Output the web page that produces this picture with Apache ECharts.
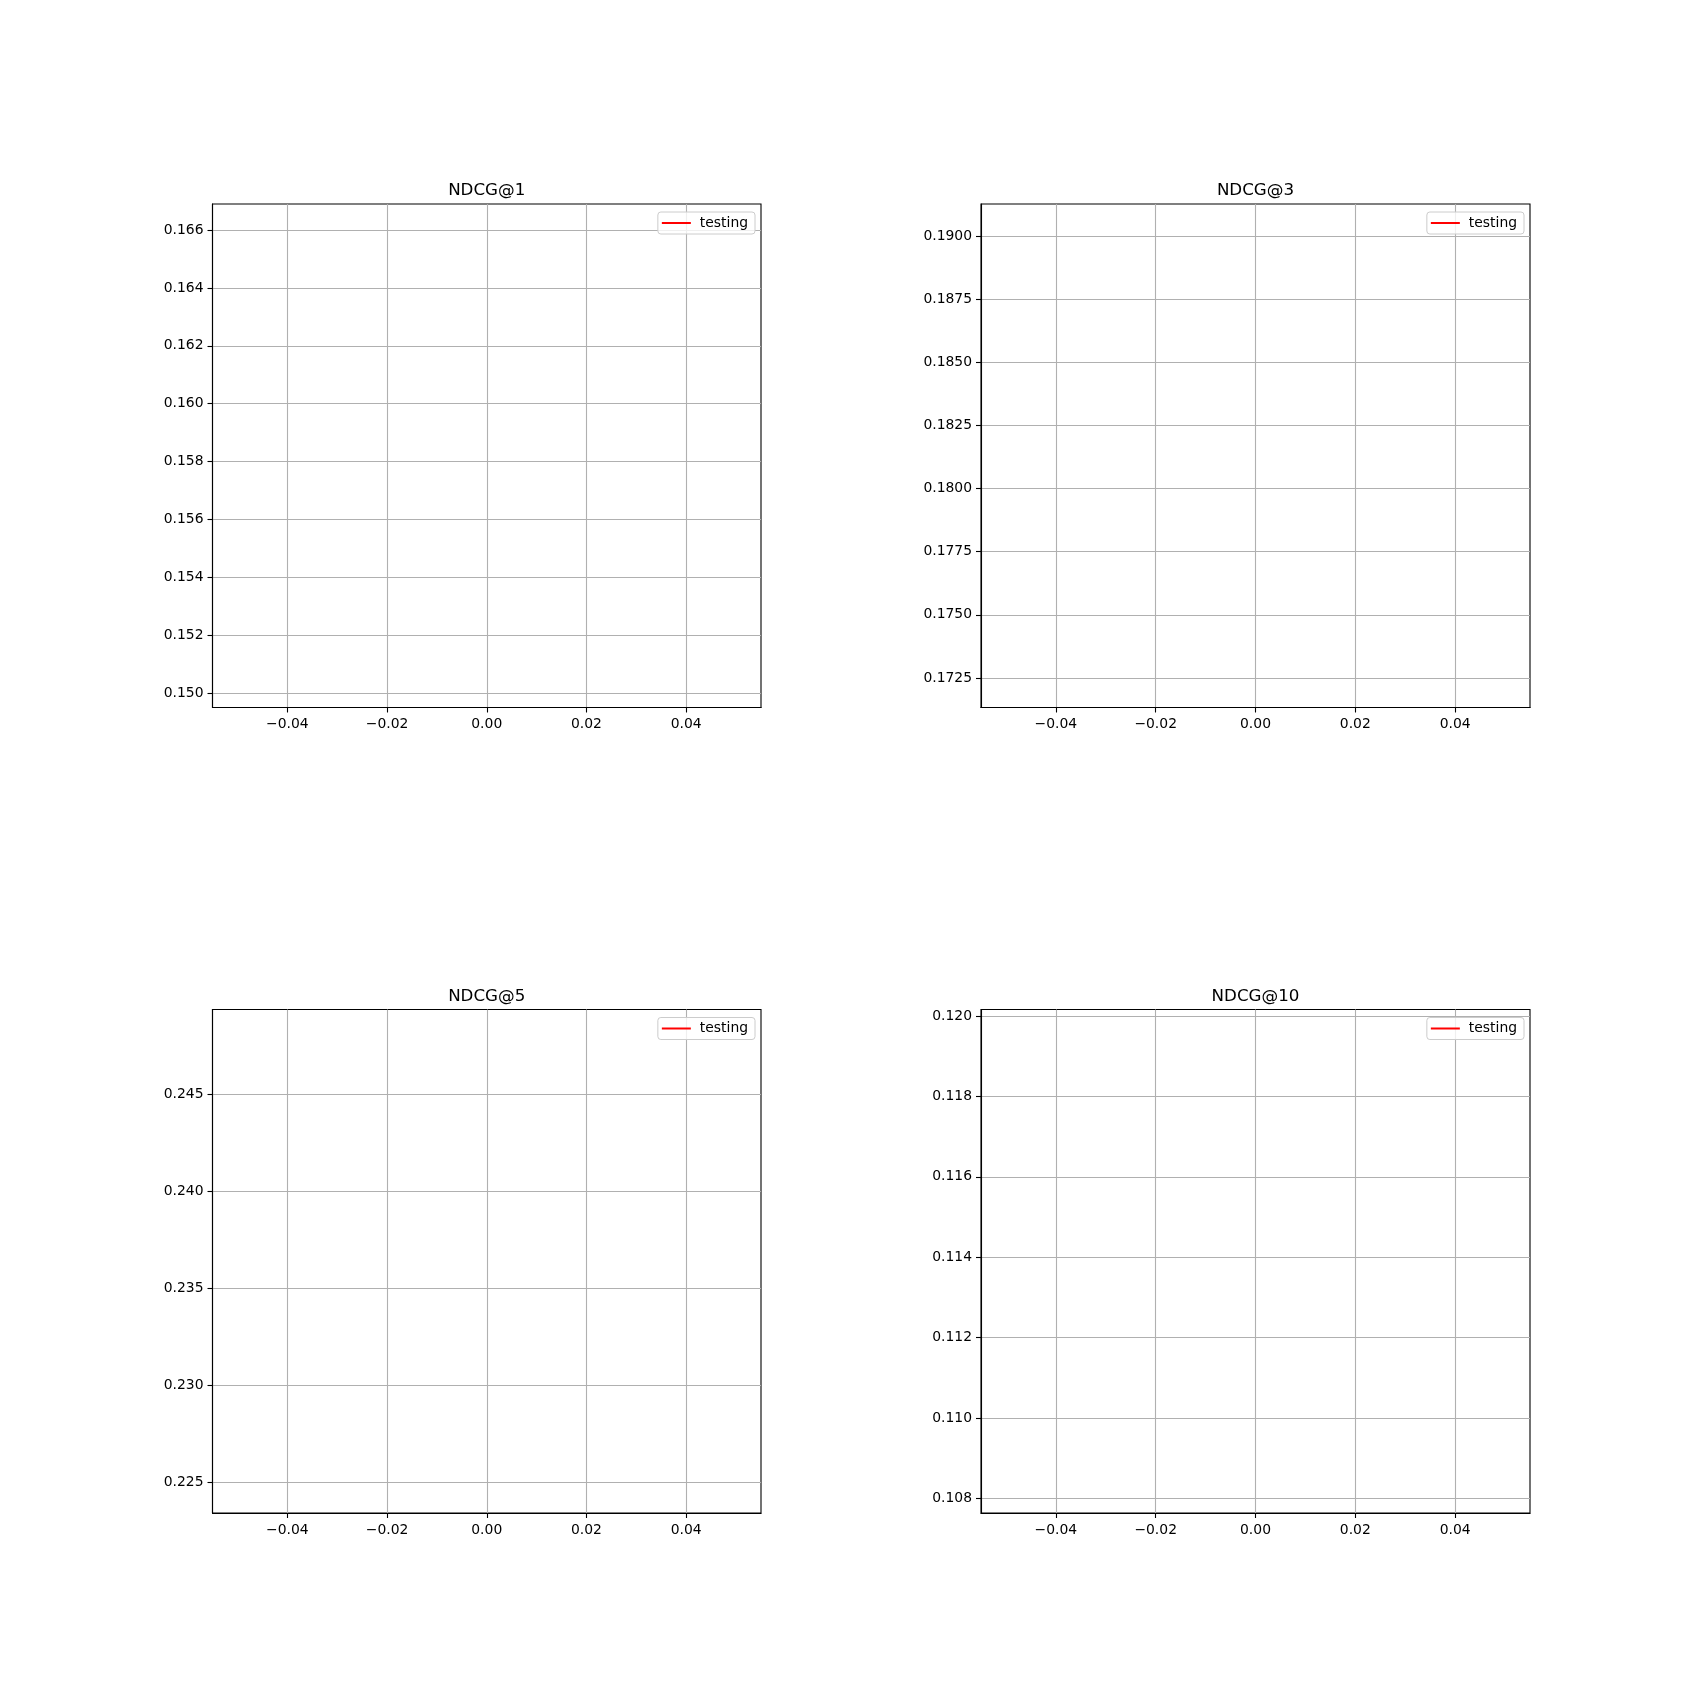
<!DOCTYPE html>
<html>
<head>
<meta charset="utf-8">
<script src="https://cdn.jsdelivr.net/npm/echarts@6/dist/echarts.min.js"></script>
<style>html,body{margin:0;padding:0;background:#fff;}#c{width:1700px;height:1700px;}</style>
</head>
<body>
<div id="c"></div>
<script>
// Data
var titles = ['NDCG@1', 'NDCG@3', 'NDCG@5', 'NDCG@10'];
var seriesName = 'testing';
var xValues = [0];
var ndcg1 = [0.1582];
var ndcg3 = [0.1813];
var ndcg5 = [0.2364];
var ndcg10 = [0.1139];
var xTicks = [-0.04, -0.02, 0, 0.02, 0.04];
var yTicks1 = [0.150, 0.152, 0.154, 0.156, 0.158, 0.160, 0.162, 0.164, 0.166];
var yTicks3 = [0.1725, 0.1750, 0.1775, 0.1800, 0.1825, 0.1850, 0.1875, 0.1900];
var yTicks5 = [0.225, 0.230, 0.235, 0.240, 0.245];
var yTicks10 = [0.108, 0.110, 0.112, 0.114, 0.116, 0.118, 0.120];
var yDecimals = [3, 4, 3, 3];

var values = [ndcg1, ndcg3, ndcg5, ndcg10];
var yTicks = [yTicks1, yTicks3, yTicks5, yTicks10];

var FONT = 'DejaVu Sans';
var gridPos = [
  {left: 212.5, top: 204, width: 548.5, height: 503.5},
  {left: 981, top: 204, width: 549, height: 503.5},
  {left: 212.5, top: 1009.5, width: 548.5, height: 503.5},
  {left: 981, top: 1009.5, width: 549, height: 503.5}
];

function fmtMinus(s) { return s.replace('-', '\u2212'); }

var grids = [], xAxes = [], yAxes = [], series = [], legends = [], graphics = [];
for (var i = 0; i < 4; i++) {
  var g = gridPos[i];
  var v = values[i][0];
  grids.push({left: g.left, top: g.top, width: g.width, height: g.height, show: true,
    borderColor: '#000', borderWidth: 1.1, backgroundColor: '#fff', containLabel: false});
  xAxes.push({type: 'value', gridIndex: i, min: -0.055, max: 0.055, position: 'bottom',
    axisLine: {show: true, onZero: false, lineStyle: {color: '#000', width: 1.1}},
    axisTick: {show: true, length: 5, inside: false, lineStyle: {color: '#000', width: 1.1}, customValues: xTicks},
    axisLabel: {customValues: xTicks, margin: 10, color: '#000', fontFamily: FONT, fontSize: 13.9,
      formatter: function (val) { return fmtMinus(Number(val).toFixed(2)); }},
    splitLine: {show: true, lineStyle: {color: '#b0b0b0', width: 1.1}}
  });
  (function (dec) {
    yAxes.push({type: 'value', gridIndex: i, min: v * (1 - 0.055), max: v * (1 + 0.055), position: 'left',
      axisLine: {show: true, onZero: false, lineStyle: {color: '#000', width: 1.1}},
      axisTick: {show: true, length: 5, inside: false, lineStyle: {color: '#000', width: 1.1}, customValues: yTicks[i]},
      axisLabel: {customValues: yTicks[i], margin: 9, color: '#000', fontFamily: FONT, fontSize: 13.9,
        formatter: function (val) { return Number(val).toFixed(dec); }},
      splitLine: {show: true, lineStyle: {color: '#b0b0b0', width: 1.1}}
    });
  })(yDecimals[i]);
  series.push({type: 'line', name: seriesName, xAxisIndex: i, yAxisIndex: i,
    data: xValues.map(function (x, k) { return [x, values[i][k]]; }),
    showSymbol: false, symbol: 'none', lineStyle: {color: '#ff0000', width: 2},
    itemStyle: {color: '#ff0000'}, animation: false});
  legends.push({data: [seriesName], right: 1700 - (g.left + g.width) + 6, top: g.top + 8,
    orient: 'vertical', icon: 'rect', itemWidth: 29, itemHeight: 2,
    padding: [4, 7, 4, 4], backgroundColor: 'rgba(255,255,255,0.8)',
    borderColor: '#cccccc', borderWidth: 1, borderRadius: 3,
    textStyle: {color: '#000', fontFamily: FONT, fontSize: 13.9, padding: [0, 0, 0, 4]},
    selectedMode: false});
  graphics.push({type: 'text', x: g.left + g.width / 2, y: g.top - 4.5,
    style: {text: titles[i], fill: '#000', font: '16.7px "DejaVu Sans"', textAlign: 'center', textVerticalAlign: 'bottom'}});
}

var chart = echarts.init(document.getElementById('c'), null, {renderer: 'canvas'});
chart.setOption({
  animation: false,
  backgroundColor: '#fff',
  grid: grids, xAxis: xAxes, yAxis: yAxes, series: series, legend: legends,
  graphic: graphics
});
</script>
</body>
</html>
